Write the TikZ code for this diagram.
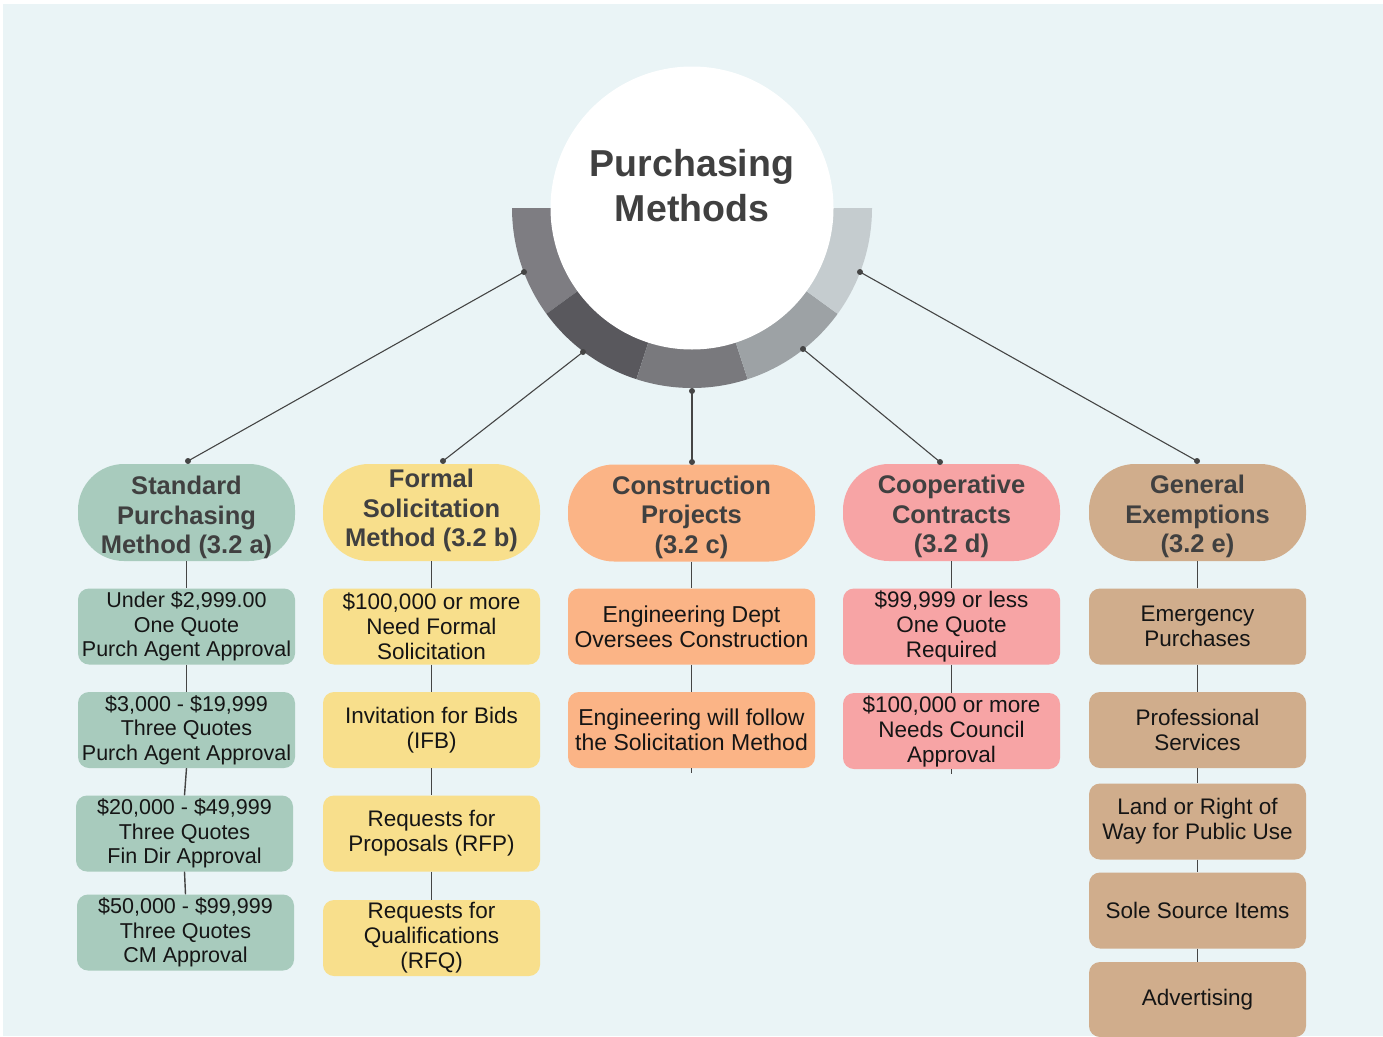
\documentclass[tikz,border=0pt]{standalone}
\usepackage{fontspec}
\setmainfont{Liberation Sans}
\usetikzlibrary{calc}
\definecolor{bgc}{HTML}{EAF4F6}
\definecolor{cgreen}{HTML}{A8CBBD}
\definecolor{cyellow}{HTML}{F8DF8C}
\definecolor{corange}{HTML}{FBB486}
\definecolor{cpink}{HTML}{F7A4A5}
\definecolor{ctan}{HTML}{D0AD8C}
\definecolor{ringa}{HTML}{7E7D82}
\definecolor{ringb}{HTML}{59585D}
\definecolor{ringc}{HTML}{79797D}
\definecolor{ringd}{HTML}{9DA2A5}
\definecolor{ringe}{HTML}{C5CCCF}
\definecolor{hdtext}{HTML}{404040}
\definecolor{ctext}{HTML}{151515}
\definecolor{linec}{HTML}{454545}
\begin{document}
\begin{tikzpicture}[x=1pt,y=-1pt,
  hdr/.style={rounded corners=46pt, minimum width=217pt, minimum height=97pt, inner sep=0pt},
  hdlbl/.style={align=center, inner sep=0pt, font=\fontsize{25.5}{29.5}\selectfont\bfseries, text=hdtext},
  child/.style={rounded corners=11pt, minimum width=217pt, minimum height=76pt, inner sep=0pt,
    align=center, font=\fontsize{22.5}{25}\selectfont, text=ctext},
  gchild/.style={child, font=\fontsize{21.5}{24.5}\selectfont},
  wide/.style={minimum width=247pt},
  conn/.style={draw=linec, line width=1.4pt},
  thin/.style={draw=linec, line width=1.1pt},
  dotc/.style={fill=linec}]
\useasboundingbox (0,0) rectangle (1383,1036);
\fill[bgc] (3,4) rectangle (1383,1036);

% ring and central circle
\begin{scope}[shift={(692,208)}, x=1pt, y=1pt]
  \fill[ringa] (0,0) -- (180:180) arc[start angle=180, end angle=216, radius=180] -- cycle;
  \fill[ringb] (0,0) -- (216:180) arc[start angle=216, end angle=252, radius=180] -- cycle;
  \fill[ringc] (0,0) -- (252:180) arc[start angle=252, end angle=288, radius=180] -- cycle;
  \fill[ringd] (0,0) -- (288:180) arc[start angle=288, end angle=324, radius=180] -- cycle;
  \fill[ringe] (0,0) -- (324:180) arc[start angle=324, end angle=360, radius=180] -- cycle;
  \fill[white] (0,0) circle[radius=141.5];
\end{scope}
\node[font=\fontsize{37.5}{45}\selectfont\bfseries, text=hdtext, align=center] (title) at (692,186) {Purchasing\\Methods};

% headers
\node[hdr, fill=cgreen, label={[hdlbl, yshift=-5pt]center:Standard\\Purchasing\\Method (3.2 a)}] (h1) at (186.5,512.5) {};
\node[hdr, fill=cyellow, label={[hdlbl, yshift=2pt]center:Formal\\Solicitation\\Method (3.2 b)}] (h2) at (431.5,512.5) {};
\node[hdr, wide, fill=corange, label={[hdlbl, yshift=-4pt]center:Construction\\Projects\\(3.2 c)}] (h3) at (691.5,513) {};
\node[hdr, fill=cpink, label={[hdlbl, yshift=-4pt]center:Cooperative\\Contracts\\(3.2 d)}] (h4) at (951.5,512.5) {};
\node[hdr, fill=ctan, label={[hdlbl, yshift=-4pt]center:General\\Exemptions\\(3.2 e)}] (h5) at (1197.5,512.5) {};

% column 1
\node[gchild, fill=cgreen] (c11) at (186.5,626.5) {Under \$2,999.00\\One Quote\\Purch Agent Approval};
\node[gchild, fill=cgreen] (c12) at (186.5,730) {\$3,000 - \$19,999\\Three Quotes\\Purch Agent Approval};
\node[gchild, fill=cgreen] (c13) at (184.5,833.5) {\$20,000 - \$49,999\\Three Quotes\\Fin Dir Approval};
\node[gchild, fill=cgreen] (c14) at (185.5,932.5) {\$50,000 - \$99,999\\Three Quotes\\CM Approval};
% column 2
\node[child, fill=cyellow] (c21) at (431.5,626.5) {\$100,000 or more\\Need Formal\\Solicitation};
\node[child, fill=cyellow] (c22) at (431.5,730) {Invitation for Bids\\(IFB)};
\node[child, fill=cyellow] (c23) at (431.5,833.5) {Requests for\\Proposals (RFP)};
\node[child, fill=cyellow] (c24) at (431.5,938) {Requests for\\Qualifications\\(RFQ)};
% column 3
\node[child, wide, fill=corange, font=\fontsize{23}{25}\selectfont] (c31) at (691.5,626.5) {Engineering Dept\\Oversees Construction};
\node[child, wide, fill=corange, font=\fontsize{23}{25}\selectfont] (c32) at (691.5,730) {Engineering will follow\\the Solicitation Method};
% column 4
\node[child, fill=cpink] (c41) at (951.5,626.5) {\$99,999 or less\\One Quote\\Required};
\node[child, fill=cpink] (c42) at (951.5,731) {\$100,000 or more\\Needs Council\\Approval};
% column 5
\node[child, fill=ctan] (c51) at (1197.5,626.5) {Emergency\\Purchases};
\node[child, fill=ctan] (c52) at (1197.5,730) {Professional\\Services};
\node[child, fill=ctan] (c53) at (1197.5,821.5) {Land or Right of\\Way for Public Use};
\node[child, fill=ctan] (c54) at (1197.5,910.5) {Sole Source Items};
\node[child, fill=ctan, minimum height=75pt] (c55) at (1197.5,999.5) {Advertising};

% ring dots and header dots
\coordinate (r1) at (524,272);
\coordinate (r2) at (583,352);
\coordinate (r3) at (692,391);
\coordinate (r4) at (803,349);
\coordinate (r5) at (860,272);
\coordinate (t1) at (188,461);
\coordinate (t2) at (443,461);
\coordinate (t3) at (692,462);
\coordinate (t4) at (940,462);
\coordinate (t5) at (1197,461);
\foreach \i in {1,...,5}{
  \draw[thin] (r\i) -- (t\i);
  \fill[dotc] (r\i) circle[radius=3pt];
  \fill[dotc] (t\i) circle[radius=3pt];
}

% vertical connectors
\draw[conn] (h1.south) -- (c11.north);
\draw[conn] (c11.south) -- (c12.north);
\draw[conn] (c12.south) -- (c13.north);
\draw[conn] (c13.south) -- (c14.north);
\draw[conn] (h2.south) -- (c21.north);
\draw[conn] (c21.south) -- (c22.north);
\draw[conn] (c22.south) -- (c23.north);
\draw[conn] (c23.south) -- (c24.north);
\draw[conn] (h3.south) -- (c31.north);
\draw[conn] (c31.south) -- (c32.north);
\draw[conn] (h4.south) -- (c41.north);
\draw[conn] (c41.south) -- (c42.north);
\draw[conn] (h5.south) -- (c51.north);
\draw[conn] (c51.south) -- (c52.north);
\draw[conn] (c52.south) -- (c53.north);
\draw[conn] (c53.south) -- (c54.north);
\draw[conn] (c54.south) -- (c55.north);
\coordinate (s3) at ($(c32.south)+(0,5)$);
\coordinate (s4) at ($(c42.south)+(0,5)$);
\draw[conn] (c32.south) -- (s3);
\draw[conn] (c42.south) -- (s4);
\end{tikzpicture}
\end{document}
